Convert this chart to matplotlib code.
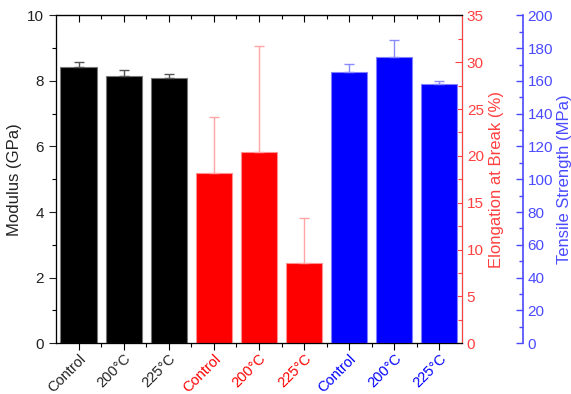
import matplotlib.pyplot as plt
import numpy as np

plt.rcParams['font.family'] = ['Liberation Sans', 'DejaVu Sans']

groups = ['Control', '200°C', '225°C']

modulus = [8.44, 8.16, 8.10]
modulus_err = [0.14, 0.17, 0.12]

elongation = [18.2, 20.4, 8.55]
elongation_err = [6.0, 11.3, 4.8]

tensile = [165.2, 174.4, 158.1]
tensile_err = [5.0, 10.8, 2.0]

red = '#ff0000'
blue = '#0000ff'
red_axis = '#ff4040'
blue_axis = '#4a4aff'

fig = plt.figure(figsize=(5.71, 3.94), dpi=100)
ax = fig.add_axes([0.098, 0.129, 0.711, 0.832])
ax2 = ax.twinx()
ax3 = ax.twinx()
ax3.spines['right'].set_position(('axes', 1.15))

x = np.arange(1, 10)
w = 0.8

# modulus (left axis)
ax.bar(x[0:3], modulus, w, color='black', edgecolor='#777777', linewidth=0.8, zorder=2)
ax.errorbar(x[0:3], modulus, yerr=[np.zeros(3), modulus_err], fmt='none',
            ecolor='#555555', elinewidth=1, capsize=3.5, zorder=3)

# elongation (first right axis)
ax2.bar(x[3:6], elongation, w, color=red, edgecolor='#ff9090', linewidth=0.8, zorder=2)
ax2.errorbar(x[3:6], elongation, yerr=[np.zeros(3), elongation_err], fmt='none',
             ecolor='#ffa5a5', elinewidth=1, capsize=3.5, zorder=3)

# tensile strength (offset right axis)
ax3.bar(x[6:9], tensile, w, color=blue, edgecolor='#8080ff', linewidth=0.8, zorder=2)
ax3.errorbar(x[6:9], tensile, yerr=[np.zeros(3), tensile_err], fmt='none',
             ecolor='#8a8aff', elinewidth=1, capsize=3.5, zorder=3)

ax.set_xlim(0.5, 9.5)
ax.set_ylim(0, 10)
ax2.set_ylim(0, 35)
ax3.set_ylim(0, 200)

ax.set_yticks(np.arange(0, 11, 2))
ax.set_yticks(np.arange(1, 10, 2), minor=True)
ax2.set_yticks(np.arange(0, 36, 5))
ax2.set_yticks(np.arange(2.5, 35, 5), minor=True)
ax3.set_yticks(np.arange(0, 201, 20))
ax3.set_yticks(np.arange(10, 200, 20), minor=True)

ax.set_xticks(x)
ax.set_xticks(np.arange(1.5, 9.5, 1), minor=True)
ax.set_xticklabels(groups * 3, rotation=45, ha='right', rotation_mode='anchor', fontsize=10.5)
colors = ['#222222'] * 3 + [red] * 3 + [blue] * 3
for lab, c in zip(ax.get_xticklabels(), colors):
    lab.set_color(c)

# bottom ticks point out
ax.tick_params(axis='x', which='major', direction='out', length=5, width=0.8, pad=1)
ax.tick_params(axis='x', which='minor', direction='out', length=3, width=0.8)
# mirrored top ticks point in
top = ax.secondary_xaxis('top')
top.set_xticks(x)
top.set_xticks(np.arange(1.5, 9.5, 1), minor=True)
top.tick_params(axis='x', which='major', direction='in', length=5, width=0.8, labeltop=False)
top.tick_params(axis='x', which='minor', direction='in', length=3, width=0.8)
top.spines['top'].set_color('#333333')

ax.tick_params(axis='y', which='major', direction='out', length=5, labelsize=11, width=0.8, colors='#222222')
ax.tick_params(axis='y', which='minor', direction='out', length=3, width=0.8)

ax2.tick_params(axis='y', which='major', direction='in', length=5, labelsize=11,
                colors=red_axis, width=0.8)
ax2.tick_params(axis='y', which='minor', direction='in', length=3, colors=red_axis, width=0.8)
ax3.tick_params(axis='y', which='major', direction='in', length=5, labelsize=11,
                colors=blue_axis, width=1.0)
ax3.tick_params(axis='y', which='minor', direction='in', length=3, colors=blue_axis, width=1.0)

for s in ['left', 'top', 'bottom']:
    ax.spines[s].set_color('#333333')
ax2.spines['right'].set_color(red_axis)
ax3.spines['right'].set_color(blue_axis)
ax3.spines['right'].set_linewidth(1.2)

ax.set_ylabel('Modulus (GPa)', fontsize=12, color='#222222', labelpad=4)
ax2.set_ylabel('Elongation at Break (%)', fontsize=12, color=red_axis, labelpad=4)
ax3.set_ylabel('Tensile Strength (MPa)', fontsize=12, color=blue_axis, labelpad=3)

fig.savefig('out.png', dpi=100)
